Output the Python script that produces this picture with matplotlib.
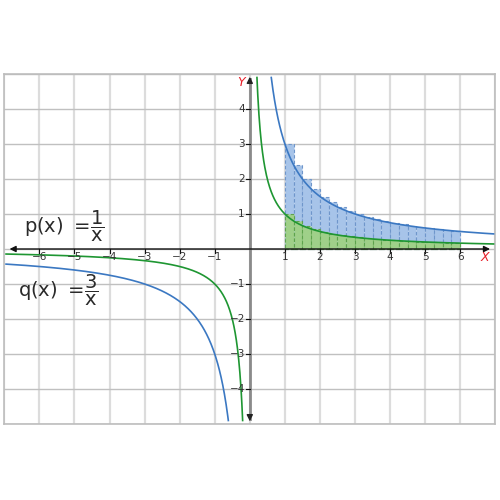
import numpy as np
import matplotlib
matplotlib.use("Agg")
import matplotlib.pyplot as plt

# ---- data ----
p_coef = 1.0   # p(x) = 1/x
q_coef = 3.0   # q(x) = 3/x
bar_left = [1.0, 1.25, 1.5, 1.75, 2.0, 2.25, 2.5, 2.75, 3.0, 3.25,
            3.5, 3.75, 4.0, 4.25, 4.5, 4.75, 5.0, 5.25, 5.5, 5.75]
bar_width = 0.25
blue_heights = [3.0, 2.4, 2.0, 1.71, 1.5, 1.33, 1.2, 1.09, 1.0, 0.92,
                0.86, 0.8, 0.75, 0.71, 0.67, 0.63, 0.6, 0.57, 0.55, 0.52]
green_heights = [1.0, 0.8, 0.67, 0.57, 0.5, 0.44, 0.4, 0.36, 0.33, 0.31,
                 0.29, 0.27, 0.25, 0.24, 0.22, 0.21, 0.2, 0.19, 0.18, 0.17]
x_tick_vals = [-6, -5, -4, -3, -2, -1, 1, 2, 3, 4, 5, 6]
y_tick_vals = [-4, -3, -2, -1, 1, 2, 3, 4]

plt.rcParams['mathtext.fontset'] = 'dejavusans'

fig = plt.figure(figsize=(5, 5), dpi=100)
ax = fig.add_axes([4.3 / 500, 76 / 500, 491 / 500, 350 / 500])
ax.set_xlim(-7, 7)
ax.set_ylim(-5, 5)
ax.set_xticks(range(-7, 8))
ax.set_yticks(range(-5, 6))
ax.tick_params(length=0, labelbottom=False, labelleft=False)
ax.xaxis.grid(True, color='#dcdcdc', lw=1.6)
ax.yaxis.grid(True, color='#c0c0c0', lw=1.0)
ax.set_axisbelow(True)
for s in ax.spines.values():
    s.set_color('#bdbdbd')
    s.set_linewidth(1.2)

# bars
ax.bar(bar_left, blue_heights, width=bar_width, align='edge',
       color='#a7c4e9', edgecolor='#6f96cb', linestyle=(0, (3, 2)), lw=0.8, zorder=2)
ax.bar(bar_left, green_heights, width=bar_width, align='edge',
       color='#9fd089', edgecolor='#5ea34d', linestyle=(0, (3, 2)), lw=0.8, zorder=3)

# curves
ymax = 4.9
xs_pos_q = np.linspace(q_coef / ymax, 6.95, 400)
xs_neg_q = np.linspace(-6.95, -q_coef / ymax, 400)
xs_pos_p = np.linspace(p_coef / ymax, 6.95, 600)
xs_neg_p = np.linspace(-6.95, -p_coef / ymax, 600)
ax.plot(xs_pos_q, q_coef / xs_pos_q, color='#3b78c2', lw=1.2, zorder=5)
ax.plot(xs_neg_q, q_coef / xs_neg_q, color='#3b78c2', lw=1.2, zorder=5)
ax.plot(xs_pos_p, p_coef / xs_pos_p, color='#1e9632', lw=1.2, zorder=5)
ax.plot(xs_neg_p, p_coef / xs_neg_p, color='#1e9632', lw=1.2, zorder=5)

# axes
ax.plot([0, 0], [-4.85, 4.85], color='#8a8a8a', lw=2, zorder=6)
ax.annotate('', xy=(0, 5.0), xytext=(0, 4.7),
            arrowprops=dict(arrowstyle='-|>', color='#222', lw=1, mutation_scale=9), zorder=7)
ax.annotate('', xy=(0, -5.0), xytext=(0, -4.7),
            arrowprops=dict(arrowstyle='-|>', color='#222', lw=1, mutation_scale=9), zorder=7)
ax.annotate('', xy=(6.93, 0), xytext=(-6.93, 0),
            arrowprops=dict(arrowstyle='<|-|>', color='#111', lw=1, mutation_scale=9), zorder=6)

for v in x_tick_vals:
    ax.plot([v, v], [0, -0.1], color='#111', lw=0.8, zorder=6)
    lab = str(v).replace('-', '\u2212')
    ax.text(v, -0.23, lab, ha='center', va='center', fontsize=7.5, color='#333', zorder=8)
for v in y_tick_vals:
    ax.plot([-0.12, 0], [v, v], color='#111', lw=0.8, zorder=6)
    lab = str(v).replace('-', '\u2212')
    ax.text(-0.14, v, lab, ha='right', va='center', fontsize=7.5, color='#333', zorder=8)

ax.text(6.7, -0.25, 'X', color='#e8202a', fontsize=9, style='italic', ha='center', va='center')
ax.text(-0.26, 4.76, 'Y', color='#e8202a', fontsize=9, style='italic', ha='center', va='center')

ax.text(-5.3, 0.64, r'$\mathrm{p(x)}\ =\!\dfrac{1}{\mathrm{x}}$', fontsize=14,
        color='#2a2a2a', ha='center', va='center', zorder=9)
ax.text(-5.45, -1.18, r'$\mathrm{q(x)}\ =\!\dfrac{3}{\mathrm{x}}$', fontsize=14,
        color='#2a2a2a', ha='center', va='center', zorder=9)

fig.savefig('out.png', dpi=100)
